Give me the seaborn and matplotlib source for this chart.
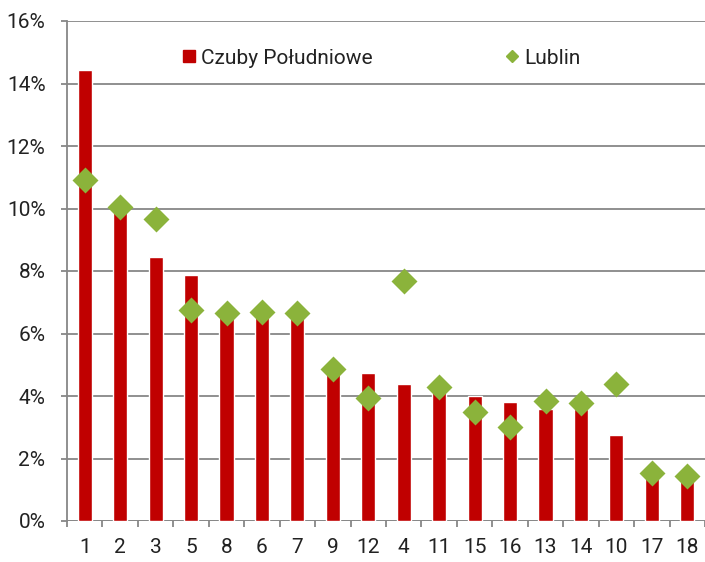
import numpy as np
import pandas as pd
import matplotlib
matplotlib.use("Agg")
import matplotlib.pyplot as plt
import seaborn as sns
from matplotlib.lines import Line2D
from matplotlib.ticker import FuncFormatter

# dane (w %)
kategorie = ['1', '2', '3', '5', '8', '6', '7', '9', '12', '4',
             '11', '15', '16', '13', '14', '10', '17', '18']
czuby = [14.43, 9.95, 8.46, 7.86, 6.6, 6.6, 6.6, 4.7, 4.73, 4.37,
         4.2, 4.01, 3.82, 3.58, 3.58, 2.74, 1.4, 1.3]
lublin = [10.9, 10.06, 9.66, 6.75, 6.67, 6.68, 6.67, 4.87, 3.95, 7.67,
          4.29, 3.48, 3.02, 3.85, 3.79, 4.37, 1.55, 1.44]

kolor_czuby = '#C00000'
kolor_lublin = '#8BB33B'
szary = '#878787'

df = pd.DataFrame({'kat': kategorie, 'czuby': czuby, 'lublin': lublin})

sns.set_style('white')
plt.rcParams['font.family'] = ['Roboto', 'DejaVu Sans']

fig = plt.figure(figsize=(7.05, 5.62), dpi=100)
ax = fig.add_axes([67 / 705, 41 / 562, 638 / 705, 500 / 562])

sns.barplot(data=df, x='kat', y='czuby', order=kategorie, color=kolor_czuby,
            saturation=1, width=0.4, ax=ax, zorder=2)
sns.pointplot(data=df, x='kat', y='lublin', order=kategorie, color=kolor_lublin,
              markers='D', linestyles='none', markersize=11.5, errorbar=None,
              ax=ax, zorder=3)

ax.set_ylim(0, 16)
ax.set_xlim(-0.5, len(kategorie) - 0.5)
ax.set_yticks(range(0, 17, 2))
ax.yaxis.set_major_formatter(FuncFormatter(lambda v, p: f'{int(v)}%'))
ax.set_xlabel('')
ax.set_ylabel('')

# siatka
ax.grid(axis='y', color=szary, linewidth=1.3, zorder=0)
ax.set_axisbelow(True)
for s in ['top', 'right', 'bottom']:
    ax.spines[s].set_visible(False)
ax.spines['left'].set_color(szary)
ax.spines['left'].set_linewidth(1.3)
ax.axhline(0, color=szary, linewidth=1.3, zorder=1)

# podzialki
ax.tick_params(axis='y', which='major', length=4.5, width=1.3, color=szary,
               pad=11, labelsize=15, labelcolor='#222222', left=True)
ax.tick_params(axis='x', which='major', length=0, pad=12, labelsize=15,
               labelcolor='#222222')
ax.set_xticks(np.arange(-0.5, len(kategorie), 1), minor=True)
ax.tick_params(axis='x', which='minor', length=4.5, width=1.3, color=szary,
               bottom=True)

uchwyty = [
    Line2D([], [], linestyle='none', marker='s', markersize=8,
           color=kolor_czuby, label='Czuby Południowe'),
    Line2D([], [], linestyle='none', marker='D', markersize=6.5,
           color=kolor_lublin, label='Lublin'),
]
ax.legend(handles=uchwyty, ncol=2, loc='center left',
          bbox_to_anchor=(0.183, 0.926), frameon=False, fontsize=15,
          handlelength=0.55, handletextpad=0.3, columnspacing=6.4,
          borderpad=0, borderaxespad=0, labelcolor='#222222')

plt.savefig('out.png', dpi=100)
plt.close()
